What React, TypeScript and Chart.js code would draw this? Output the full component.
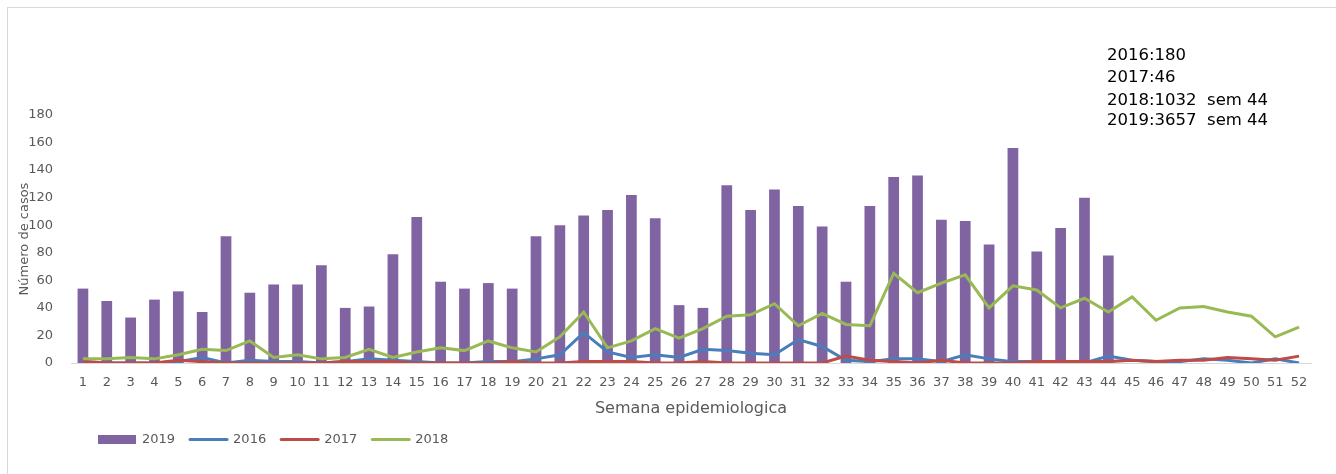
import React, { useEffect, useRef } from "react";
import { Chart, registerables } from "chart.js";

Chart.register(...registerables);

const weeks: string[] = [
  "1","2","3","4","5","6","7","8","9","10","11","12","13","14","15","16","17","18","19","20",
  "21","22","23","24","25","26","27","28","29","30","31","32","33","34","35","36","37","38","39","40",
  "41","42","43","44","45","46","47","48","49","50","51","52",
];

const cases2019: (number | null)[] = [
  54, 45, 33, 46, 52, 37, 92, 51, 57, 57, 71, 40, 41, 79, 106, 59, 54, 58, 54, 92,
  100, 107, 111, 122, 105, 42, 40, 129, 111, 126, 114, 99, 59, 114, 135, 136, 104, 103, 86, 156,
  81, 98, 120, 78, null, null, null, null, null, null, null, null,
];

const cases2016: number[] = [
  1, 0, 0, 0, 1, 4, 0, 2, 1, 1, 0, 1, 3, 2, 1, 0, 0, 1, 1, 3,
  6, 22, 8, 4, 6, 4, 10, 9, 7, 6, 17, 12, 2, 1, 3, 3, 1, 6, 3, 1,
  1, 1, 0, 5, 2, 1, 1, 3, 2, 0, 3, 0,
];

const cases2017: number[] = [
  1, 0, 0, 0, 2, 1, 0, 0, 0, 0, 0, 1, 1, 1, 0, 0, 0, 0, 1, 0,
  0, 1, 1, 1, 0, 0, 1, 0, 0, 0, 0, 0, 5, 2, 1, 0, 2, 0, 0, 0,
  1, 1, 1, 1, 2, 1, 2, 2, 4, 3, 2, 5,
];

const cases2018: number[] = [
  3, 3, 4, 3, 6, 10, 9, 16, 4, 6, 3, 4, 10, 4, 8, 11, 9, 16, 11, 8,
  19, 37, 11, 16, 25, 18, 25, 34, 35, 43, 27, 36, 28, 27, 65, 51, 58, 64, 40, 56,
  53, 40, 47, 37, 48, 31, 40, 41, 37, 34, 19, 26,
];

const seriesLabels: string[] = ["2019", "2016", "2017", "2018"];

const annotationLines: string[] = [
  "2016:180",
  "2017:46",
  "2018:1032  sem 44",
  "2019:3657  sem 44",
];

const yTitle = "Número de casos";
const xTitle = "Semana epidemiologica";

const FONT = '"DejaVu Sans", sans-serif';

const overlayPlugin = {
  id: "overlay",
  afterDraw(chart: any) {
    const ctx: CanvasRenderingContext2D = chart.ctx;
    ctx.save();
    // legend
    let x = 98;
    const cy = 439.5;
    ctx.font = `13px ${FONT}`;
    ctx.textBaseline = "middle";
    ctx.textAlign = "left";
    chart.data.datasets.forEach((ds: any) => {
      if (ds.type === "bar") {
        ctx.fillStyle = ds.backgroundColor;
        ctx.fillRect(x, cy - 4.5, 38, 9);
      } else {
        ctx.strokeStyle = ds.borderColor;
        ctx.lineWidth = 3;
        ctx.lineCap = "round";
        ctx.beginPath();
        ctx.moveTo(x + 1, cy);
        ctx.lineTo(x + 38, cy);
        ctx.stroke();
      }
      x += 44;
      ctx.fillStyle = "#595959";
      ctx.fillText(ds.label, x, cy);
      x += ctx.measureText(ds.label).width + 14;
    });
    // annotation
    ctx.fillStyle = "#000000";
    ctx.font = `16.5px ${FONT}`;
    const ys = [56, 78, 101, 121];
    annotationLines.forEach((t, i) => ctx.fillText(t, 1107, ys[i]));
    ctx.restore();
  },
};

export default function App() {
  const canvasRef = useRef<HTMLCanvasElement | null>(null);

  useEffect(() => {
    if (!canvasRef.current) return;
    const chart = new Chart(canvasRef.current, {
      type: "bar",
      data: {
        labels: weeks,
        datasets: [
          {
            type: "bar",
            label: seriesLabels[0],
            data: cases2019 as any,
            backgroundColor: "#8064A2",
            borderWidth: 0,
            barPercentage: 0.45,
            categoryPercentage: 1,
            order: 4,
          },
          {
            type: "line",
            label: seriesLabels[1],
            data: cases2016,
            borderColor: "#4A7EBB",
            backgroundColor: "#4A7EBB",
            borderWidth: 3,
            pointRadius: 0,
            tension: 0,
            order: 3,
          },
          {
            type: "line",
            label: seriesLabels[2],
            data: cases2017,
            borderColor: "#BE4B48",
            backgroundColor: "#BE4B48",
            borderWidth: 3,
            pointRadius: 0,
            tension: 0,
            order: 2,
          },
          {
            type: "line",
            label: seriesLabels[3],
            data: cases2018,
            borderColor: "#98B954",
            backgroundColor: "#98B954",
            borderWidth: 3,
            pointRadius: 0,
            tension: 0,
            order: 1,
          },
        ] as any,
      },
      options: {
        responsive: false,
        animation: false,
        layout: { padding: { left: 0, right: 25, top: 115, bottom: 51 } },
        plugins: {
          legend: { display: false },
          tooltip: { enabled: false },
        },
        scales: {
          x: {
            offset: true,
            grid: { display: false, drawTicks: false },
            border: { display: true, color: "#D9D9D9", width: 1 },
            ticks: {
              autoSkip: false,
              maxRotation: 0,
              minRotation: 0,
              padding: 12,
              color: "#595959",
              font: { family: FONT, size: 13 },
            },
            title: {
              display: true,
              text: xTitle,
              color: "#595959",
              font: { family: FONT, size: 16 },
              padding: { top: 0, bottom: 5 },
            },
            afterFit: (axis: any) => {
              axis.height = 60;
            },
          },
          y: {
            min: 0,
            max: 180,
            grid: { display: false, drawTicks: false },
            border: { display: false },
            ticks: {
              stepSize: 20,
              padding: 18,
              color: "#595959",
              font: { family: FONT, size: 13 },
            },
            title: {
              display: true,
              text: yTitle,
              color: "#595959",
              font: { family: FONT, size: 13 },
              padding: { top: 17, bottom: 0 },
            },
            afterFit: (axis: any) => {
              axis.width = 71;
            },
          },
        },
      },
      plugins: [overlayPlugin],
    });
    return () => chart.destroy();
  }, []);

  return (
    <div style={{ position: "fixed", left: 0, top: 0, width: 1336, height: 474, overflow: "hidden", background: "#fff" }}>
      <div
        style={{
          position: "absolute",
          left: 7,
          top: 7,
          width: 1400,
          height: 520,
          border: "1px solid #D9D9D9",
        }}
      />
      <canvas
        ref={canvasRef}
        width={1336}
        height={474}
        style={{ position: "absolute", left: 0, top: 0, width: 1336, height: 474 }}
      />
    </div>
  );
}
